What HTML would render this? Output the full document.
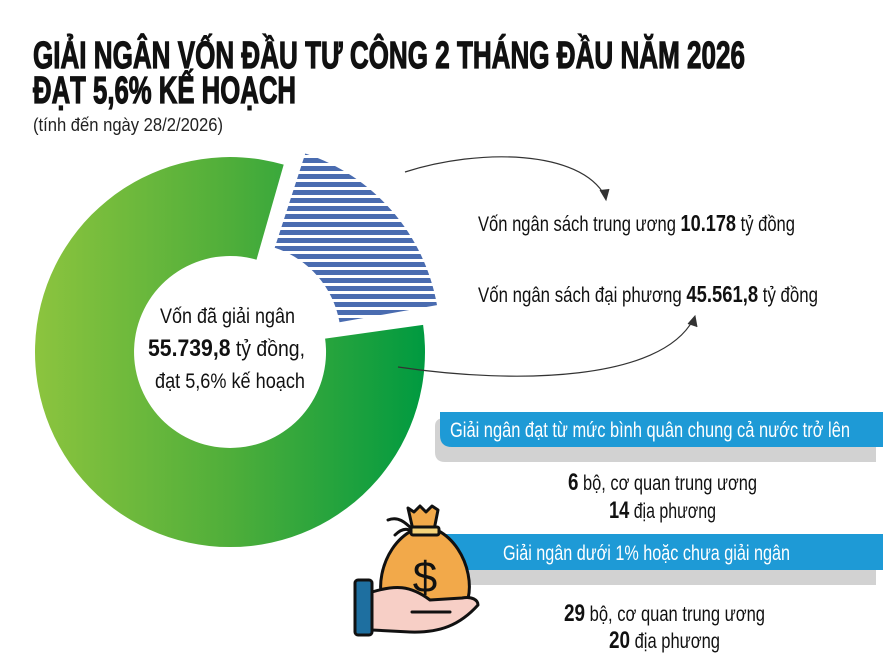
<!DOCTYPE html>
<html><head><meta charset="utf-8"><style>
html,body{margin:0;padding:0;background:#fff;}
svg{display:block;}
text{font-family:"Liberation Sans Narrow","Liberation Sans",sans-serif;}
</style></head><body>
<svg width="883" height="666" viewBox="0 0 883 666" xmlns="http://www.w3.org/2000/svg">
<defs>
<linearGradient id="g" x1="35" y1="0" x2="425" y2="0" gradientUnits="userSpaceOnUse">
<stop offset="0" stop-color="#8cc43e"/><stop offset="0.5" stop-color="#4fae3a"/><stop offset="1" stop-color="#009a40"/>
</linearGradient>
<pattern id="st" x="0" y="150" width="10" height="8" patternUnits="userSpaceOnUse">
<rect width="10" height="5" fill="#4a6cb0"/><rect y="5" width="10" height="3" fill="#fff"/>
</pattern>
</defs>
<rect width="883" height="666" fill="#fff"/>
<text x="33" y="68" font-size="38" font-weight="bold" fill="#111" stroke="#111" stroke-width="1.2" textLength="712" lengthAdjust="spacingAndGlyphs">GIẢI NGÂN VỐN ĐẦU TƯ CÔNG 2 THÁNG ĐẦU NĂM 2026</text>
<text x="33" y="103" font-size="38" font-weight="bold" fill="#111" stroke="#111" stroke-width="1.2" textLength="263" lengthAdjust="spacingAndGlyphs">ĐẠT 5,6% KẾ HOẠCH</text>
<text x="33" y="131" font-size="18" fill="#222" textLength="190" lengthAdjust="spacingAndGlyphs">(tính đến ngày 28/2/2026)</text>
<path d="M423.1,324.9 A195,195 0 1 1 283.7,164.6 L256.5,259.7 A96,96 0 1 0 325.1,338.6 Z" fill="url(#g)"/>
<path d="M305.3,153.5 A195,195 0 0 1 437.0,305.1 L339.5,322.3 A96,96 0 0 0 274.7,247.7 Z" fill="url(#st)"/>
<text x="160" y="323" font-size="21" fill="#111" textLength="135" lengthAdjust="spacingAndGlyphs">Vốn đã giải ngân</text>
<text x="148" y="356" font-size="22" fill="#111" textLength="157" lengthAdjust="spacingAndGlyphs"><tspan font-weight="bold" font-size="24">55.739,8</tspan> tỷ đồng,</text>
<text x="155" y="388" font-size="21" fill="#111" textLength="150" lengthAdjust="spacingAndGlyphs">đạt 5,6% kế hoạch</text>
<path d="M405,172 C480,148 580,150 605,196" fill="none" stroke="#333" stroke-width="1.2"/>
<path d="M600,190 L606,200 L609,189" fill="#333" stroke="#333" stroke-width="1"/>
<path d="M398,367 C520,385 660,380 693,320" fill="none" stroke="#333" stroke-width="1.2"/>
<path d="M688,324 L695,316 L697,327" fill="#333" stroke="#333" stroke-width="1"/>
<text x="478" y="231" font-size="21" fill="#111" textLength="317" lengthAdjust="spacingAndGlyphs">Vốn ngân sách trung ương <tspan font-weight="bold" font-size="23">10.178</tspan> tỷ đồng</text>
<text x="478" y="302" font-size="21" fill="#111" textLength="340" lengthAdjust="spacingAndGlyphs">Vốn ngân sách đại phương <tspan font-weight="bold" font-size="23">45.561,8</tspan> tỷ đồng</text>
<path d="M435,426 Q435,418 445,418 L876,418 L876,462 L445,462 Q435,462 435,452 Z" fill="#d2d2d2"/>
<path d="M440,412 L883,412 L883,447 L452,447 Q440,447 440,435 Z" fill="#1e9ad6"/>
<text x="450" y="437" font-size="21" fill="#fff" textLength="400" lengthAdjust="spacingAndGlyphs">Giải ngân đạt từ mức bình quân chung cả nước trở lên</text>
<text x="568" y="490" font-size="21" fill="#111" textLength="189" lengthAdjust="spacingAndGlyphs"><tspan font-weight="bold" font-size="24">6</tspan> bộ, cơ quan trung ương</text>
<text x="609" y="518" font-size="21" fill="#111" textLength="107" lengthAdjust="spacingAndGlyphs"><tspan font-weight="bold" font-size="24">14</tspan> địa phương</text>
<rect x="440" y="545" width="436" height="40" fill="#d2d2d2"/>
<rect x="440" y="534" width="443" height="36" fill="#1e9ad6"/>
<text x="503" y="560" font-size="21" fill="#fff" textLength="287" lengthAdjust="spacingAndGlyphs">Giải ngân dưới 1% hoặc chưa giải ngân</text>
<text x="564" y="621" font-size="21" fill="#111" textLength="201" lengthAdjust="spacingAndGlyphs"><tspan font-weight="bold" font-size="24">29</tspan> bộ, cơ quan trung ương</text>
<text x="609" y="648" font-size="21" fill="#111" textLength="111" lengthAdjust="spacingAndGlyphs"><tspan font-weight="bold" font-size="24">20</tspan> địa phương</text>
<g stroke="#111" stroke-width="3" stroke-linejoin="round" stroke-linecap="round">
<path d="M388,520 C398,516 405,522 413,530" fill="none"/>
<path d="M395,535 C402,528 408,528 413,532" fill="none"/>
<path d="M408,508 L414,512 L420,506 L426,512 L432,506 L438,510 L434,530 L413,530 Z" fill="#f2a94a"/>
<path d="M413,530 C378,548 372,602 392,614 L458,614 C478,602 472,548 437,530 Z" fill="#f2a94a"/>
<rect x="411" y="527" width="28" height="8" rx="2" fill="#f5d37a"/>
<path d="M372,592 C395,585 410,585 430,600 L462,598 C472,596 478,600 478,605 C460,625 440,633 410,632 L372,630 Z" fill="#f7cfc6"/>
<path d="M412,612 L450,612" fill="none"/>
<rect x="355" y="580" width="17" height="55" rx="3" fill="#1e6fa0"/>
</g>
<text x="425" y="592" font-size="44" text-anchor="middle" fill="#111" font-family="Liberation Sans, sans-serif">$</text>
</svg>
</body></html>
